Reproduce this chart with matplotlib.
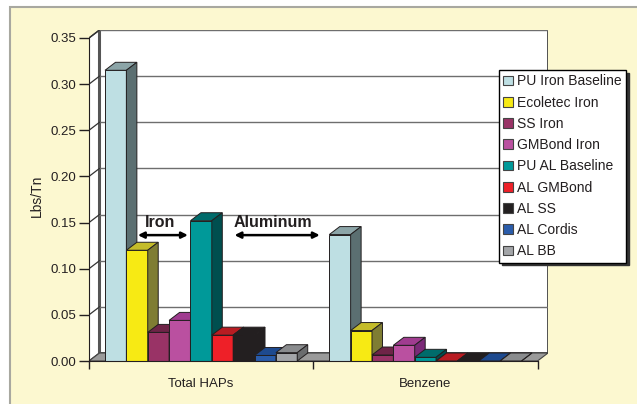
import matplotlib
matplotlib.use("Agg")
import matplotlib.pyplot as plt
from matplotlib.patches import Polygon, Rectangle, Patch

plt.rcParams['font.family'] = ['Liberation Sans', 'DejaVu Sans']

# ---- data -------------------------------------------------------------
categories = ["Total HAPs", "Benzene"]
series = ["PU Iron Baseline", "Ecoletec Iron", "SS Iron", "GMBond Iron",
          "PU AL Baseline", "AL GMBond", "AL SS", "AL Cordis", "AL BB"]
total_haps = [0.315, 0.120, 0.031, 0.044, 0.152, 0.028, 0.028, 0.006, 0.009]
benzene = [0.137, 0.033, 0.0065, 0.017, 0.004, 0.0, 0.0, 0.0, 0.0]
yticks = [0.00, 0.05, 0.10, 0.15, 0.20, 0.25, 0.30, 0.35]

# front / top / side shades for each series
front_colors = ["#BEDFE3", "#F7EA14", "#993366", "#BA50A0", "#009999",
                "#EE2028", "#231F20", "#2A5CAA", "#A3A5A8"]
top_colors = ["#8CA5A8", "#C4BC2A", "#6E2447", "#A03C90", "#006B6B",
              "#B81C22", "#231F20", "#1E4A8F", "#8A8C8E"]
side_colors = ["#5B6F71", "#7F7D33", "#5A1E3A", "#7B2A78", "#004F4F",
               "#8A151A", "#231F20", "#163A70", "#6A6C6E"]

W, H = 637, 404
fig = plt.figure(figsize=(W / 100, H / 100), dpi=100)
fig.patch.set_facecolor("white")

# panel background
fig.patches.append(Rectangle((10 / W, -0.05), 1, 1.05 - 7 / H,
                             transform=fig.transFigure,
                             facecolor="#FCF8D0", edgecolor="#A8A8A0", lw=1.5,
                             zorder=-10))

# plot box geometry (pixels)
x0, x1 = 89, 548
y_bot, y_top = 361, 30
cat_px = 224.5
val_px = 924.0
dpx, dpy = 10.5, 8.0

ax = fig.add_axes([x0 / W, (H - y_bot) / H, (x1 - x0) / W, (y_bot - y_top) / H])
ax.set_facecolor("none")
ddx = dpx / cat_px
ddy = dpy / val_px
ymax = 0.35
ax.set_xlim(0, len(categories) + ddx)
ax.set_ylim(0, ymax + ddy)

TXT = "#231F20"
edge = "#231F20"

# walls and floor
ncat = len(categories)
ax.add_patch(Rectangle((ddx, ddy), ncat, ymax, facecolor="white",
                       edgecolor="#333333", lw=1.2, zorder=1))
ax.plot([ddx, ddx], [ddy, ymax + ddy], color="#555555", lw=2.2, zorder=1.5)
ax.add_patch(Polygon([(0, 0), (ddx, ddy), (ddx, ymax + ddy), (0, ymax)],
                     closed=True, facecolor="white", edgecolor="#333333",
                     lw=1.0, zorder=1))
for t in yticks[1:]:
    ax.plot([ddx, ncat + ddx], [t + ddy, t + ddy], color="#6E6E6E", lw=1.0, zorder=1.6)
    ax.plot([0, ddx], [t, t + ddy], color="#333333", lw=0.9, zorder=1.6)
ax.add_patch(Polygon([(0, 0), (ncat, 0), (ncat + ddx, ddy), (ddx, ddy)],
                     closed=True, facecolor="#9A9A9A", edgecolor="#444444",
                     lw=0.8, zorder=2))

# 3-D style bars
nser = len(series)
bw = 1.0 / (nser + 1.5)
gap = 0.75 * bw
z = 3
for ci, vals in enumerate([total_haps, benzene]):
    lefts = [ci + gap + i * bw for i in range(nser)]
    for i, (left, v) in enumerate(zip(lefts, vals)):
        ax.bar(left, v, width=bw, align="edge", color=front_colors[i],
               edgecolor=edge, lw=0.7, zorder=z)
        ax.add_patch(Polygon([(left, v), (left + bw, v),
                              (left + bw + ddx, v + ddy), (left + ddx, v + ddy)],
                             closed=True, facecolor=top_colors[i],
                             edgecolor=edge, lw=0.7, zorder=z))
        ax.add_patch(Polygon([(left + bw, 0), (left + bw + ddx, ddy),
                              (left + bw + ddx, v + ddy), (left + bw, v)],
                             closed=True, facecolor=side_colors[i],
                             edgecolor=edge, lw=0.7, zorder=z))
        z += 0.01

# axes, ticks and labels
for s in ["top", "right"]:
    ax.spines[s].set_visible(False)
ax.spines["left"].set_bounds(0, ymax)
ax.spines["bottom"].set_bounds(0, ncat)
ax.spines["left"].set_color(TXT)
ax.spines["bottom"].set_color(TXT)
ax.spines["left"].set_zorder(10)
ax.spines["bottom"].set_zorder(10)
ax.set_yticks(yticks)
ax.set_yticklabels([f"{t:.2f}" for t in yticks])
ax.tick_params(axis="y", direction="out", length=7, width=1, colors=TXT,
               labelsize=9.5, pad=2)
ax.set_xticks(range(ncat + 1))
ax.set_xticklabels([])
ax.set_xticks([c + 0.5 for c in range(ncat)], minor=True)
ax.set_xticklabels(categories, minor=True)
ax.tick_params(axis="x", which="major", direction="out", length=6, width=1,
               colors=TXT)
ax.tick_params(axis="x", which="minor", length=0, labelsize=9.5, labelcolor=TXT,
               pad=12)
ax.set_ylabel("Lbs/Tn", fontsize=10, color=TXT, labelpad=5)

# group annotations
ax.text(0.316, 0.150, "Iron", ha="center", va="center", fontsize=11.5,
        fontweight="bold", color=TXT, zorder=20)
ax.annotate("", xy=(0.218, 0.1364), xytext=(0.441, 0.1364),
            arrowprops=dict(arrowstyle="<|-|>", color="black", lw=1.8,
                            mutation_scale=9, shrinkA=0, shrinkB=0), zorder=20)
ax.text(0.822, 0.150, "Aluminum", ha="center", va="center", fontsize=11.5,
        fontweight="bold", color=TXT, zorder=20)
ax.annotate("", xy=(0.649, 0.1364), xytext=(1.029, 0.1364),
            arrowprops=dict(arrowstyle="<|-|>", color="black", lw=1.8,
                            mutation_scale=9, shrinkA=0, shrinkB=0), zorder=20)

# legend
handles = [Patch(facecolor=front_colors[i], edgecolor="#444444", lw=0.8)
           for i in range(nser)]
leg = fig.legend(handles, series, loc="upper left",
                 bbox_to_anchor=(499 / W, 1 - 70 / H), fontsize=10,
                 frameon=True, fancybox=False, shadow={"color": "#333333", "alpha": 1},
                 handlelength=0.7, handleheight=0.7, handletextpad=0.3,
                 labelspacing=0.52, borderpad=0.32, borderaxespad=0)
leg.get_frame().set_edgecolor("black")
leg.get_frame().set_linewidth(1.0)
for t in leg.get_texts():
    t.set_color(TXT)

fig.savefig("out.png", dpi=100)
